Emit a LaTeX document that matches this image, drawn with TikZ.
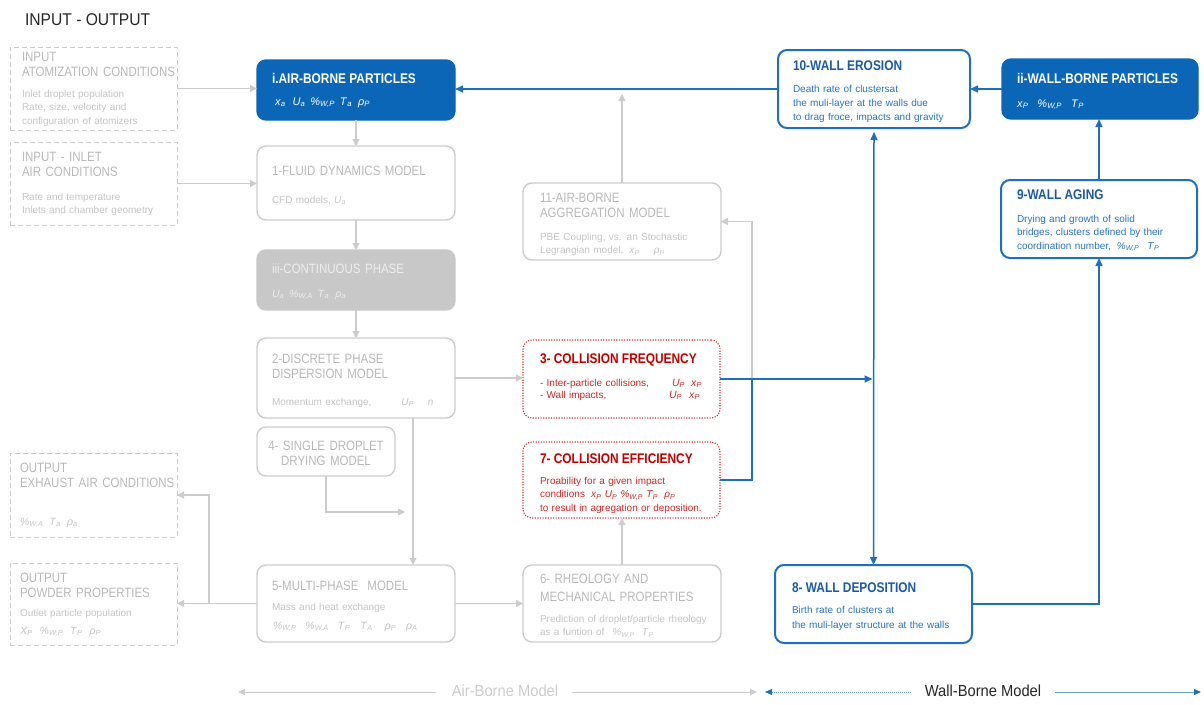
\documentclass[tikz,border=0pt]{standalone}
\usepackage{fontspec}
\setmainfont{Liberation Sans}
\newfontfamily\narrowfont{Liberation Sans}[FakeStretch=0.85]
\newfontfamily\labelfont{Liberation Sans}[FakeStretch=0.92]
\usetikzlibrary{arrows.meta}

\definecolor{dblue}{RGB}{12,102,184}
\definecolor{lblue}{RGB}{30,112,190}
\definecolor{tblue}{RGB}{26,90,165}
\definecolor{bblue}{RGB}{40,115,195}
\definecolor{lgray}{RGB}{204,204,204}
\definecolor{tgray}{RGB}{184,184,184}
\definecolor{bgray}{RGB}{196,196,196}
\definecolor{fgray}{RGB}{200,200,200}
\definecolor{wgray}{RGB}{238,238,238}
\definecolor{dred}{RGB}{192,0,0}
\definecolor{rtext}{RGB}{208,38,38}
\definecolor{rline}{RGB}{210,60,60}
\definecolor{pblue}{RGB}{110,160,210}

% italic variable with subscript
\newcommand\sv[2]{\textit{#1}\textsubscript{\textit{#2}}}

\begin{document}
\begin{tikzpicture}[x=1pt,y=-1pt,
  every node/.style={inner sep=0pt, outer sep=0pt},
  frame/.style={anchor=north west, rounded corners=9pt, line width=1.4pt},
  graybox/.style={frame, draw=lgray},
  bluebox/.style={frame, draw=lblue, line width=2pt},
  solidblue/.style={frame, fill=dblue, draw=dblue},
  shadebox/.style={frame, fill=fgray, draw=fgray},
  redbox/.style={frame, draw=rline, line width=1.1pt, dash pattern=on 1.2pt off 1.4pt},
  iobox/.style={anchor=north west, draw=lgray, line width=1pt, dash pattern=on 5pt off 3pt},
  ttlg/.style={anchor=base west, font=\narrowfont\fontsize{13.5}{15.5}\selectfont, text=tgray, align=left, text width=180pt},
  ttlb/.style={anchor=base west, font=\narrowfont\bfseries\fontsize{14}{16}\selectfont, text=tblue},
  ttlw/.style={anchor=base west, font=\narrowfont\bfseries\fontsize{14}{16}\selectfont, text=white},
  ttlr/.style={anchor=base west, font=\narrowfont\bfseries\fontsize{14}{16}\selectfont, text=dred},
  bodyg/.style={anchor=base west, font=\fontsize{10}{13.8}\selectfont, text=bgray, align=left, text width=190pt},
  bodyb/.style={anchor=base west, font=\fontsize{10}{14}\selectfont, text=bblue, align=left, text width=190pt},
  bodyr/.style={anchor=base west, font=\fontsize{10}{13.5}\selectfont, text=rtext, align=left, text width=190pt},
  varg/.style={anchor=base west, font=\fontsize{10.5}{13}\selectfont, text=bgray},
  garrow/.style={draw=lgray, line width=1.2pt, -{Triangle[length=7pt,width=7pt]}},
  barrow/.style={draw=lblue, line width=1.5pt, -{Triangle[length=8pt,width=7pt]}},
  bline/.style={draw=lblue, line width=1.5pt},
  btip/.tip={Triangle[length=7pt,width=6pt,color=lblue]}
]
\useasboundingbox (0,0) rectangle (1204,704);

\node[anchor=base west, font=\labelfont\fontsize{17}{20}\selectfont, text=black!85] (head) at (25,25) {INPUT - OUTPUT};

% ---------- input / output frames ----------
\node[iobox, minimum width=167pt, minimum height=83pt] (inA) at (10,47) {};
\node[ttlg] (inAt) at (22,61) {INPUT\\ATOMIZATION CONDITIONS};
\node[bodyg] (inAb) at (22,97) {Inlet droplet population\\Rate, size, velocity and\\configuration of atomizers};

\node[iobox, minimum width=167pt, minimum height=83pt] (inB) at (10,142) {};
\node[ttlg] (inBt) at (22,161) {INPUT - INLET\\AIR CONDITIONS};
\node[bodyg] (inBb) at (22,200) {Rate and temperature\\Inlets and chamber geometry};

\node[iobox, minimum width=167pt, minimum height=84pt] (outA) at (10,453) {};
\node[ttlg] (outAt) at (20,472) {OUTPUT\\EXHAUST AIR CONDITIONS};
\node[varg] (outAv) at (20,525) {\sv{\%}{W,A}\hspace{6pt}\sv{T}{a}\hspace{6pt}\sv{ρ}{a}};

\node[iobox, minimum width=167pt, minimum height=82pt] (outB) at (10,563) {};
\node[ttlg] (outBt) at (20,582) {OUTPUT\\POWDER PROPERTIES};
\node[bodyg] (outBb) at (20,616) {Outlet particle population};
\node[varg] (outBv) at (20,634) {\sv{X}{P}\hspace{7pt}\sv{\%}{W,P}\hspace{7pt}\sv{T}{P}\hspace{7pt}\sv{ρ}{P}};

% ---------- air-borne column ----------
\node[solidblue, minimum width=198pt, minimum height=60pt] (ib) at (257,60) {};
\node[ttlw] (ibt) at (272,83) {i.AIR-BORNE PARTICLES};
\node[anchor=base west, font=\fontsize{11}{13}\selectfont, text=white] (ibv) at (275,105)
  {\sv{x}{a}\hspace{7pt}\sv{U}{a}\hspace{5pt}\sv{\%}{W,P}\hspace{5pt}\sv{T}{a}\hspace{6pt}\sv{ρ}{P}};

\node[graybox, minimum width=198pt, minimum height=74pt] (fd) at (257,146) {};
\node[ttlg] (fdt) at (272,175) {1-FLUID DYNAMICS MODEL};
\node[bodyg] (fdb) at (272,203) {CFD models, \sv{U}{a}};

\node[shadebox, minimum width=198pt, minimum height=60pt] (cp) at (257,250) {};
\node[ttlg, text=wgray] (cpt) at (272,273) {iii-CONTINUOUS PHASE};
\node[varg, text=wgray] (cpv) at (272,297) {\sv{U}{a}\hspace{5pt}\sv{\%}{W,A}\hspace{5pt}\sv{T}{a}\hspace{6pt}\sv{ρ}{a}};

\node[graybox, minimum width=198pt, minimum height=80pt] (dp) at (257,338) {};
\node[ttlg] (dpt) at (272,363) {2-DISCRETE PHASE\\DISPERSION MODEL};
\node[bodyg] (dpb) at (272,405) {Momentum exchange,\hspace{30pt}\sv{U}{P}\hspace{14pt}\textit{n}};

\node[graybox, minimum width=138pt, minimum height=49pt] (sd) at (257,427) {};
\node[anchor=base, font=\narrowfont\fontsize{13.5}{15.5}\selectfont, text=tgray, align=center, text width=130pt] (sdt) at (326,450) {4- SINGLE DROPLET\\DRYING MODEL};

\node[graybox, minimum width=198pt, minimum height=77pt] (mp) at (257,565) {};
\node[ttlg] (mpt) at (272,590) {5-MULTI-PHASE\ \ MODEL};
\node[bodyg] (mpb) at (272,610) {Mass and heat exchange};
\node[varg] (mpv) at (273,629) {\sv{\%}{W,P}\hspace{9pt}\sv{\%}{W,A}\hspace{9pt}\sv{T}{P}\hspace{10pt}\sv{T}{A}\hspace{12pt}\sv{ρ}{P}\hspace{10pt}\sv{ρ}{A}};

% ---------- middle column ----------
\node[graybox, minimum width=198pt, minimum height=77pt] (ag) at (523,183) {};
\node[ttlg] (agt) at (540,202) {11-AIR-BORNE\\AGGREGATION MODEL};
\node[bodyg] (agb) at (540,240) {PBE Coupling, vs. an Stochastic\\Legrangian model,\hspace{6pt}\sv{x}{P}\hspace{14pt}\sv{ρ}{P}};

\node[redbox, minimum width=197pt, minimum height=78pt] (cf) at (523,340) {};
\node[ttlr] (cft) at (540,363) {3- COLLISION FREQUENCY};
\node[bodyr] (cfb) at (540,386) {- Inter-particle collisions,\\[-1.5pt]- Wall impacts,};
\node[anchor=base west, font=\fontsize{10.5}{13}\selectfont, text=rtext] (cfv1) at (672,386) {\sv{U}{P}\hspace{6pt}\sv{x}{P}};
\node[anchor=base west, font=\fontsize{10.5}{13}\selectfont, text=rtext] (cfv2) at (669,398) {\sv{U}{P}\hspace{7pt}\sv{x}{P}};

\node[redbox, minimum width=197pt, minimum height=76pt] (ce) at (523,442) {};
\node[ttlr] (cet) at (540,463) {7- COLLISION EFFICIENCY};
\node[bodyr] (ceb) at (540,484) {Proability for a given impact\\conditions\hspace{6pt}\sv{x}{P} \sv{U}{P} \sv{\%}{W,P} \sv{T}{P}\hspace{3pt} \sv{ρ}{P}\\to result in agregation or deposition.};

\node[graybox, minimum width=198pt, minimum height=77pt] (rh) at (523,565) {};
\node[ttlg, font=\narrowfont\fontsize{13.5}{18}\selectfont] (rht) at (540,583) {6- RHEOLOGY AND\\MECHANICAL PROPERTIES};
\node[bodyg] (rhb) at (540,622) {Prediction of droplet/particle rheology\\as a funtion of\hspace{8pt}\sv{\%}{W,P}\hspace{7pt}\sv{T}{P}};

% ---------- wall-borne column ----------
\node[bluebox, minimum width=192pt, minimum height=78pt] (we) at (778,50) {};
\node[ttlb] (wet) at (793,70) {10-WALL EROSION};
\node[bodyb] (web) at (793,92) {Death rate of clustersat\\the muli-layer at the walls due\\to drag froce, impacts and gravity};

\node[solidblue, minimum width=196pt, minimum height=60pt] (wb) at (1002,59) {};
\node[ttlw] (wbt) at (1017,83) {ii-WALL-BORNE PARTICLES};
\node[anchor=base west, font=\fontsize{11}{13}\selectfont, text=white] (wbv) at (1017,107)
  {\sv{x}{P}\hspace{9pt}\sv{\%}{W,P}\hspace{9pt}\sv{T}{P}};

\node[bluebox, minimum width=196pt, minimum height=78pt] (wa) at (1001,180) {};
\node[ttlb] (wat) at (1017,199) {9-WALL AGING};
\node[bodyb, font=\fontsize{10}{13.5}\selectfont] (wab) at (1017,222) {Drying and growth of solid\\bridges, clusters defined by their\\coordination number,\hspace{6pt}\sv{\%}{W,P}\hspace{8pt}\sv{T}{P}};

\node[bluebox, minimum width=197pt, minimum height=78pt] (wd) at (775,565) {};
\node[ttlb] (wdt) at (792,592) {8- WALL DEPOSITION};
\node[bodyb, font=\fontsize{10}{15}\selectfont] (wdb) at (792,613) {Birth rate of clusters at\\the muli-layer structure at the walls};

% ---------- gray connectors ----------
\draw[garrow] (inA.east) -- (inA.east -| ib.west);
\draw[garrow] (inB.east) -- (inB.east -| fd.west);
\draw[garrow] (ib.south) -- (fd.north);
\draw[garrow] (fd.south) -- (cp.north);
\draw[garrow] (cp.south) -- (dp.north);
\draw[garrow] (dp.east) -- (dp.east -| cf.west);
\draw[garrow] ([xshift=57pt]dp.south) -- ([xshift=57pt]mp.north);
\coordinate (m4) at (405,512);
\draw[garrow] (sd.south) |- (m4);
\draw[garrow] (mp.west) -- (mp.west -| outB.east);
\coordinate (br) at (209,604);
\draw[garrow] (br) |- (outA.east);
\draw[garrow] (mp.east) -- (mp.east -| rh.west);
\draw[garrow] (rh.north) -- (rh.north |- ce.south);
\coordinate (agtop) at (622,94);
\draw[garrow] (ag.north) -- (agtop);
\coordinate (jn) at (752,379);
\draw[garrow] (jn) |- (ag.east);

% ---------- blue connectors ----------
\draw[barrow] (we.west) -- (we.west -| ib.east);
\draw[barrow] (wb.west) -- (wb.west -| we.east);
\draw[barrow] (wa.north) -- (wa.north |- wb.south);
\draw[draw=lblue, line width=1.5pt, {Triangle[length=8pt,width=7pt]}-{Triangle[length=8pt,width=7pt]}] ([yshift=-4pt]we.south) -- (wd.north);
\draw[barrow] (cf.east) -- ([xshift=-1pt]cf.east -| wd.north);
\draw[bline] (ce.east) -| (jn);
\draw[barrow] (wd.east) -| (wa.south);

% ---------- bottom legend ----------
\node[font=\labelfont\fontsize{16}{18}\selectfont, text=lgray] (abm) at (505,691) {Air-Borne Model};
\node[font=\labelfont\fontsize{16}{18}\selectfont, text=black!85] (wbm) at (983,691) {Wall-Borne Model};
\coordinate (abL) at (238,692);
\coordinate (abR) at (757,692);
\coordinate (wbL) at (765,692);
\coordinate (wbR) at (1201,692);
\draw[draw=lgray, line width=1pt, -{Triangle[length=7pt,width=6pt]}] ([xshift=-16pt]abm.west |- abL) -- (abL);
\draw[draw=lgray, line width=1pt, -{Triangle[length=7pt,width=6pt]}] ([xshift=14pt]abm.east |- abR) -- (abR);
\draw[draw=pblue, line width=1pt, dash pattern=on 1pt off 1pt, -btip] ([xshift=-14pt]wbm.west |- wbL) -- (wbL);
\draw[draw=pblue, line width=1pt, -btip] ([xshift=14pt]wbm.east |- wbR) -- (wbR);
\end{tikzpicture}
\end{document}
